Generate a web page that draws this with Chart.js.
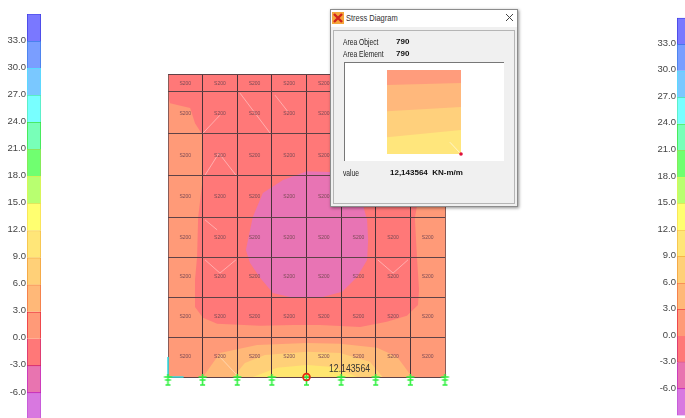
<!DOCTYPE html>
<html>
<head>
<meta charset="utf-8">
<script src="https://cdn.jsdelivr.net/npm/chart.js@4/dist/chart.umd.min.js"></script>
<style>
html, body { margin: 0; padding: 0; background: #fff; }
#page { position: relative; width: 685px; height: 418px; overflow: hidden; background: #fff; font-family: "Liberation Sans", sans-serif; filter: blur(0.3px); }
canvas { position: absolute; display: block; }
#dialog { position: absolute; left: 330px; top: 9px; width: 188px; height: 198px; background: #f0f0f0; border: 1px solid #8c8c8c; box-sizing: border-box; box-shadow: 1px 1px 3px rgba(0,0,0,.45); color: #222; font-size: 8.4px; }
#titlebar { position: absolute; left: 0; top: 0; right: 0; height: 17px; background: #fff; }
#titlebar .icon { position: absolute; left: 1px; top: 2px; }
#titlebar .close { position: absolute; left: 174px; top: 3px; }
#titlebar .t { position: absolute; left: 15px; top: 2px; font-size: 9.4px; color: #333; transform: scaleX(.8); transform-origin: left center; white-space: nowrap; }
#group { position: absolute; left: 2px; top: 20px; width: 182px; height: 174px; border: 1px solid #b5b5b5; box-sizing: border-box; }
.lbl { position: absolute; white-space: nowrap; transform: scaleX(.8); transform-origin: left center; }
.val { position: absolute; white-space: nowrap; font-weight: bold; font-size: 8px; color: #111; }
#panel { position: absolute; left: 10px; top: 31px; width: 160px; height: 99px; background: #fff; border-top: 1px solid #777; border-left: 1px solid #777; box-sizing: border-box; }
</style>
</head>
<body>
<div id="page">
  <canvas id="barLeft" width="41" height="430" style="left:0;top:0"></canvas>
  <canvas id="barRight" width="60" height="430" style="left:640px;top:0"></canvas>
  <canvas id="wall" width="300" height="330" style="left:158px;top:64px"></canvas>
  <div id="dialog">
    <div id="titlebar">
      <svg class="icon" width="12" height="12"><rect width="12" height="12" fill="#f4a63a"/><path d="M2 2L10 10M10 2L2 10" stroke="#d0241c" stroke-width="2.4"/></svg>
      <span class="t">Stress Diagram</span>
      <svg class="close" width="9" height="9"><path d="M1 1L8 8M8 1L1 8" stroke="#444" stroke-width="1"/></svg>
    </div>
    <div id="group">
      <span class="lbl" style="left:9px;top:6px">Area Object</span><span class="val" style="left:62px;top:6px">790</span>
      <span class="lbl" style="left:9px;top:18px">Area Element</span><span class="val" style="left:62px;top:18px">790</span>
      <div id="panel"><canvas id="mini" width="159" height="98" style="left:0;top:0"></canvas></div>
      <span class="lbl" style="left:9px;top:137px">value</span><span class="val" style="left:56px;top:137px">12,143564&nbsp; KN-m/m</span>
    </div>
  </div>
</div>
<script>
// colour scale
const tickValues = [33, 30, 27, 24, 21, 18, 15, 12, 9, 6, 3, 0, -3, -6];
const bandLow  = [33, 30, 27, 24, 21, 18, 15, 12, 9, 6, 3, 0, -3, -6, -9];
const bandHigh = [36, 33, 30, 27, 24, 21, 18, 15, 12, 9, 6, 3, 0, -3, -6];
const bandFill = ["#7a78ff", "#7a9eff", "#7ac8ff", "#78ffff", "#78ffb8", "#70ff70", "#b8ff70", "#ffff70",
                  "#ffe678", "#ffd078", "#ffb878", "#ff9a78", "#ff7878", "#e874b0", "#d878e0"];
const bandLine = ["#3a3ae0", "#3a78e8", "#50e0ff", "#50e8b0", "#30e030", "#90e050", "#e8f050", "#f8d850",
                  "#f4b840", "#f09830", "#f06838", "#e82038", "#d02070", "#c020c0", "#c050d8"];

// wall grid, x in bays, y in storeys
const bayLines = [0, 1, 2, 3, 4, 5, 6, 7, 8];
const floorLevels = [0, 1, 2, 3, 3.98, 5.03, 6.08, 7.13, 7.58];
const cellX = [0.5, 1.5, 2.5, 3.5, 4.5, 5.5, 6.5, 7.5];
const cellY = [0.5, 1.5, 2.5, 3.49, 4.5, 5.55, 6.6, 7.35];
const cellLabel = "S200";

// stress contours
const baseX = [0, 8, 8, 0];
const baseY = [0, 0, 7.58, 7.58];
const redX = [0, 8, 8, 7.22, 7.13, 7.19, 7.25, 7.22, 6.9, 6.32, 5.55, 4.39, 3.61, 2.66, 1.42, 1.01, 0.78, 0.78, 0.84, 0.87, 1.01, 0.98, 0.78, 0.64, 0.06, 0];
const redY = [7.58, 7.58, 5.68, 4.43, 3.98, 3, 2.18, 1.8, 1.53, 1.38, 1.25, 1.3, 1.3, 1.28, 1.33, 1.48, 1.75, 2.43, 3, 3.98, 5.03, 6.08, 6.35, 6.73, 6.85, 7.05];
const magentaX = [2.25, 2.31, 2.45, 2.74, 3.32, 4.01, 4.68, 5.11, 5.55, 5.75, 5.78, 5.75, 5.46, 5.03, 4.39, 3.61, 3.03, 2.66, 2.37];
const magentaY = [3.18, 3.43, 4.0, 4.6, 4.93, 5.15, 5.13, 4.98, 4.55, 3.93, 3.43, 2.93, 2.5, 2.13, 1.98, 1.98, 2.1, 2.48, 2.85];
const band3X = [1.01, 1.5, 2.57, 4.01, 4.97, 6.04, 6.62, 7.05];
const band3Y = [0, 0.6, 0.8, 0.85, 0.83, 0.73, 0.5, 0];
const band6X = [1.88, 2.22, 2.8, 4.01, 4.97, 5.83, 6.2];
const band6Y = [0, 0.35, 0.55, 0.63, 0.6, 0.38, 0];
const band9X = [2.45, 3.15, 4.01, 4.77, 5.46];
const band9Y = [0, 0.23, 0.3, 0.25, 0];

// pale crease lines inside some cells, null breaks the line
const creaseX = [1.01, 1.5, null, 2.08, 2.95, null, 3.09, 3.47, null, 1.07, 1.47, 1.96, null, 1.07, 1.42, null, 1.07, 1.5, 1.96, null, 6.06, 6.5, 6.93, null, 1.5, 1.99];
const creaseY = [6.1, 6.55, null, 7.1, 6.1, null, 7.05, 6.63, null, 5.05, 5.6, 5.05, null, 3.93, 3.68, null, 2.93, 2.6, 2.93, null, 2.93, 2.6, 2.93, null, 0.5, 0.05];

const supportX = [0, 1, 2, 3, 4, 5, 6, 7, 8];
const supportY = [0, 0, 0, 0, 0, 0, 0, 0, 0];
const selectedX = [4];
const selectedY = [0];
const axisX = [0, 0, null, 0, 0.45];
const axisY = [0.5, 0, null, 0, 0];
const readout = "12.143564";
const readoutX = 4.65;
const readoutY = 0.2;

// small diagram in the dialog
const miniLeft = [1, 0.82, 0.51, 0.2];
const miniRight = [1, 0.845, 0.56, 0.285];
const miniFill = ["#ff9c7c", "#ffb87c", "#ffd07c", "#ffe67c"];

function toPoints(xs, ys) {
  return xs.map((x, i) => (x === null ? { x: NaN, y: NaN } : { x: x, y: ys[i] }));
}

function makeColorbar(id, axisWidth, top, bottom) {
  new Chart(document.getElementById(id), {
    type: "bar",
    data: {
      labels: [""],
      datasets: bandLow.map((lo, i) => ({
        data: [[lo, bandHigh[i]]],
        backgroundColor: bandFill[i],
        borderColor: bandLine[i],
        borderWidth: 1,
        grouped: false,
        barPercentage: 1,
        categoryPercentage: 1
      }))
    },
    options: {
      responsive: false,
      animation: false,
      layout: { padding: { top: top, bottom: bottom, left: 0, right: 0 } },
      plugins: { legend: { display: false }, tooltip: { enabled: false } },
      scales: {
        x: { display: false },
        y: {
          min: -9,
          max: 36,
          afterBuildTicks: s => { s.ticks = tickValues.map(v => ({ value: v })); },
          afterFit: s => { s.width = axisWidth; },
          grid: { display: false, drawTicks: false },
          border: { display: false },
          ticks: {
            autoSkip: false,
            padding: 1,
            labelOffset: -1,
            color: "#444",
            font: { family: "Liberation Sans", size: 9.5 },
            callback: v => v.toFixed(1)
          }
        }
      }
    }
  });
}

makeColorbar("barLeft", 27, 13.9, 10);
makeColorbar("barRight", 37, 17.8, 14.5);

function polygon(xs, ys, color, order) {
  return { data: toPoints(xs, ys), showLine: true, fill: "shape", backgroundColor: color, borderWidth: 0, pointRadius: 0, order: order };
}

// green restraint symbol used as the point style of the supports
function supportSymbol() {
  const c = document.createElement("canvas");
  c.width = 11;
  c.height = 22;
  const g = c.getContext("2d");
  g.strokeStyle = "#30f040";
  g.lineWidth = 1.6;
  g.beginPath();
  g.moveTo(5.5, 8); g.lineTo(5.5, 19);
  g.moveTo(1.5, 11); g.lineTo(9.5, 11);
  g.moveTo(2.5, 14); g.lineTo(8.5, 14);
  g.moveTo(3, 19); g.lineTo(8, 19);
  g.stroke();
  return c;
}

const cellText = {
  id: "cellText",
  // contours hide the grid, so it goes over them again before the supports
  afterDatasetDraw(chart, args) {
    if (args.index !== 6) return;
    chart.scales.x.drawGrid(chart.chartArea);
    chart.scales.y.drawGrid(chart.chartArea);
  },
  afterDatasetsDraw(chart) {
    const { ctx, scales } = chart;
    ctx.save();
    ctx.textAlign = "center";
    ctx.textBaseline = "middle";
    ctx.fillStyle = "#7a4a55";
    ctx.font = "5px 'Liberation Sans'";
    cellY.forEach(y => cellX.forEach(x => {
      ctx.fillText(cellLabel, scales.x.getPixelForValue(x), scales.y.getPixelForValue(y));
    }));
    ctx.textAlign = "left";
    ctx.fillStyle = "#333";
    ctx.font = "11px 'Liberation Sans'";
    ctx.translate(scales.x.getPixelForValue(readoutX), scales.y.getPixelForValue(readoutY));
    ctx.scale(0.79, 1);
    ctx.fillText(readout, 0, 0);
    ctx.restore();
  }
};

new Chart(document.getElementById("wall"), {
  type: "scatter",
  data: {
    datasets: [
      polygon(baseX, baseY, "#ff9a78", 10),
      polygon(redX, redY, "#ff7878", 9),
      polygon(magentaX, magentaY, "#e874b4", 8),
      polygon(band3X, band3Y, "#ffb878", 7),
      polygon(band6X, band6Y, "#ffd078", 6),
      polygon(band9X, band9Y, "#ffe670", 5),
      { data: toPoints(creaseX, creaseY), showLine: true, spanGaps: false, borderColor: "rgba(255,255,255,.4)", borderWidth: 1, pointRadius: 0, order: 4 },
      { data: toPoints(axisX, axisY), showLine: true, spanGaps: false, borderColor: "#38dce0", borderWidth: 1.6, pointRadius: 0, clip: false, order: 3 },
      { data: toPoints(supportX, supportY), pointStyle: supportSymbol(), clip: false, order: 2 },
      { data: toPoints(selectedX, selectedY), pointStyle: "circle", pointRadius: 3.4, borderColor: "#e62a10", borderWidth: 1.8, backgroundColor: "rgba(0,0,0,0)", clip: false, order: 1 }
    ]
  },
  options: {
    responsive: false,
    animation: false,
    layout: { padding: { left: 10, top: 10, right: 13, bottom: 17 } },
    plugins: { legend: { display: false }, tooltip: { enabled: false } },
    scales: {
      x: {
        type: "linear",
        min: 0,
        max: 8,
        afterBuildTicks: s => { s.ticks = bayLines.map(v => ({ value: v })); },
        ticks: { display: false },
        border: { display: false },
        grid: {
          drawTicks: false,
          lineWidth: 1,
          color: c => (c.index === 0 || c.index === 8 ? "#8a5c58" : "#4a3338")
        }
      },
      y: {
        type: "linear",
        min: 0,
        max: 7.58,
        afterBuildTicks: s => { s.ticks = floorLevels.map(v => ({ value: v })); },
        ticks: { display: false },
        border: { display: false },
        grid: { drawTicks: false, lineWidth: 1, color: "#5e4247" }
      }
    }
  },
  plugins: [cellText]
});

new Chart(document.getElementById("mini"), {
  type: "scatter",
  data: {
    datasets: miniFill.map((color, i) => ({
      data: [{ x: 0, y: miniLeft[i] }, { x: 1, y: miniRight[i] }],
      showLine: true,
      fill: "start",
      backgroundColor: color,
      borderWidth: 0,
      pointRadius: 0,
      order: 10 - i
    })).concat([
      { data: [{ x: 0.85, y: 0.14 }, { x: 1, y: 0 }], showLine: true, borderColor: "rgba(255,255,255,.6)", borderWidth: 1, pointRadius: 0, order: 2 },
      { data: [{ x: 1, y: 0 }], pointRadius: 1.8, backgroundColor: "#e0103a", borderWidth: 0, clip: false, order: 1 }
    ])
  },
  options: {
    responsive: false,
    animation: false,
    layout: { padding: { left: 42, top: 7, right: 43, bottom: 7 } },
    plugins: { legend: { display: false }, tooltip: { enabled: false } },
    scales: {
      x: { type: "linear", min: 0, max: 1, display: false },
      y: { type: "linear", min: 0, max: 1, display: false }
    }
  }
});
</script>
</body>
</html>
